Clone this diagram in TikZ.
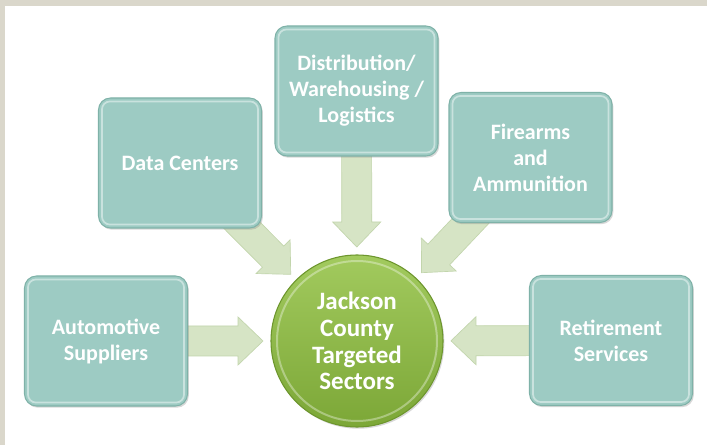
\documentclass[tikz,border=0pt]{standalone}
\usepackage{fontspec}
\setmainfont{Carlito}
\usetikzlibrary{calc,shadows}
\definecolor{tealfill}{HTML}{9DCBC3}
\definecolor{tealedge}{HTML}{7FB2A8}
\definecolor{arrowfill}{HTML}{D6E4C5}
\definecolor{arrowedge}{HTML}{C2D5AC}
\definecolor{framegrey}{HTML}{DAD7CB}
\definecolor{greentop}{HTML}{A2CA5E}
\definecolor{greenbot}{HTML}{7CA737}
\definecolor{greenedge}{HTML}{6D962D}
\pgfdeclarelayer{back}
\pgfdeclarelayer{arrowlayer}
\pgfsetlayers{back,arrowlayer,main}
\newcommand\fatarrow[2]{%
  \coordinate (tip-#1) at ($(#2.center)!70.5pt!(#1.center)$);
  \coordinate (hb-#1) at ($(tip-#1)!18.75pt!(#1.center)$);
  \filldraw[fatarrowstyle]
    ($(#1.center)!11.25pt!90:(tip-#1)$) -- ($(hb-#1)!11.25pt!90:(tip-#1)$) --
    ($(hb-#1)!18pt!90:(tip-#1)$) -- (tip-#1) --
    ($(hb-#1)!18pt!-90:(tip-#1)$) -- ($(hb-#1)!11.25pt!-90:(tip-#1)$) --
    ($(#1.center)!11.25pt!-90:(tip-#1)$) -- cycle;}
\begin{document}
\begin{tikzpicture}[x=0.75pt,y=-0.75pt,
  sector/.style={draw=tealedge, line width=0.8pt, fill=tealfill, rounded corners=9pt,
    minimum width=122.25pt, minimum height=97.5pt, inner sep=2pt, align=center,
    text=white, font=\fontsize{16.5}{19.5}\selectfont\bfseries,
    drop shadow={opacity=0.3, shadow xshift=1pt, shadow yshift=-1.3pt}},
  bevel/.style={draw=white, opacity=0.45, line width=1.3pt, rounded corners=6pt},
  hubstyle/.style={circle, draw=greenedge, line width=0.8pt, top color=greentop,
    bottom color=greenbot, minimum size=129pt, inner sep=0pt, align=center,
    text=white, font=\fontsize{18.75}{20}\selectfont\bfseries,
    drop shadow={opacity=0.3, shadow xshift=1pt, shadow yshift=-1.3pt}},
  fatarrowstyle/.style={fill=arrowfill, draw=arrowedge, line width=0.5pt}]
\useasboundingbox (0,0) rectangle (707,445);
\begin{pgfonlayer}{back}
  \fill[framegrey] (0,0) rectangle (707,445);
  \fill[white] (5,6) rectangle (707,445);
\end{pgfonlayer}

\node[sector] (auto) at (106,341) {Automotive\\Suppliers};
\node[sector] (dc) at (180,163) {Data Centers};
\node[sector] (dist) at (356.5,91) {Distribution/\\Warehousing /\\Logistics};
\node[sector] (fire) at (530.5,157.5) {Firearms\\and\\Ammunition};
\node[sector] (ret) at (611,340.5) {Retirement\\Services};
\node[hubstyle] (hub) at (357,341) {Jackson\\County\\Targeted\\Sectors};

\foreach \n in {auto,dc,dist,fire,ret}
  \draw[bevel] ($(\n.south west)+(4,-4)$) rectangle ($(\n.north east)+(-4,4)$);
\draw[white, opacity=0.35, line width=1.5pt] (hub.center) circle (80);

\begin{pgfonlayer}{arrowlayer}
  \fatarrow{auto}{hub}
  \fatarrow{dc}{hub}
  \fatarrow{dist}{hub}
  \fatarrow{fire}{hub}
  \fatarrow{ret}{hub}
\end{pgfonlayer}
\end{tikzpicture}
\end{document}
